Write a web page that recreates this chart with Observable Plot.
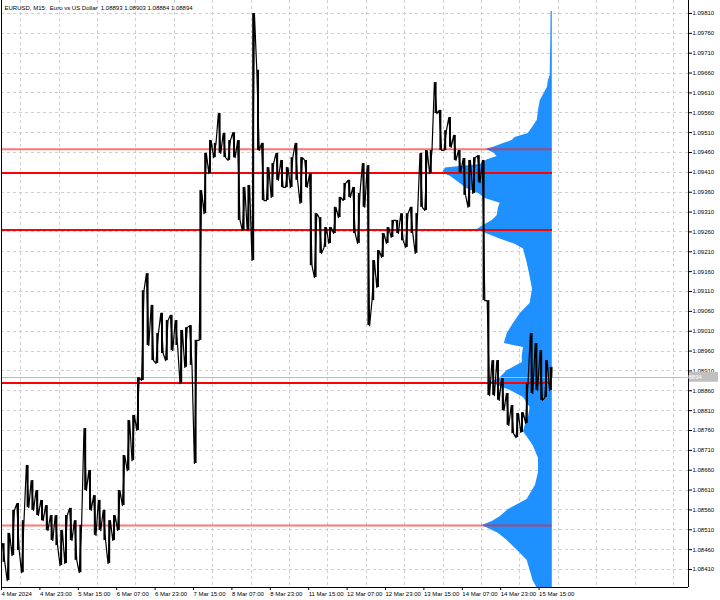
<!DOCTYPE html>
<html><head><meta charset="utf-8">
<script src="https://cdn.jsdelivr.net/npm/d3@7"></script>
<script src="https://cdn.jsdelivr.net/npm/@observablehq/plot@0.6"></script>
<style>
body{margin:0;background:#fff;}
#chart{width:720px;height:600px;}
svg text{white-space:pre;}
</style></head><body>
<div id="chart"></div>
<script>
const titleText = "EURUSD, M15:  Euro vs US Dollar  1.08893 1.08903 1.08884 1.08894";
const barsPerColumn = 8;
const lastBar = 918;
const domainBars = [0, 1145];
const priceDomain = [1.083647, 1.098427];

const xTickBars = [0,64,128,192,256,320,384,448,512,576,640,704,768,832,896];
const xTickLabels = ["4 Mar 2024","4 Mar 23:00","5 Mar 15:00","6 Mar 07:00","6 Mar 23:00","7 Mar 15:00","8 Mar 07:00","8 Mar 23:00","11 Mar 15:00","12 Mar 07:00","12 Mar 23:00","13 Mar 15:00","14 Mar 07:00","14 Mar 23:00","15 Mar 15:00"];
const xGridBars = [32,96,160,224,288,352,416,480,544,608,672,736,800,864,928,992,1056,1120];
const yTicks = [1.09810,1.09760,1.09710,1.09660,1.09610,1.09560,1.09510,1.09460,1.09410,1.09360,1.09310,1.09260,1.09210,1.09160,1.09110,1.09060,1.09010,1.08960,1.08910,1.08860,1.08810,1.08760,1.08710,1.08660,1.08610,1.08560,1.08510,1.08460,1.08410];

// high / low of each group of 8 M15 bars
const colHigh = [
1.08475,1.08501,1.08559,1.08576,1.08533,
1.08672,1.08634,1.08609,1.08584,1.08571,
1.08546,1.08546,1.08508,1.08546,1.08564,
1.08533,1.08521,1.08765,1.08659,1.08596,
1.08584,1.08559,1.08533,1.08546,1.08609,
1.08697,1.08785,1.08798,1.08893,1.09112,
1.09155,1.09075,1.09004,1.09055,1.09037,
1.09050,1.09037,1.09012,1.09019,1.09024,
1.08987,1.09364,1.09458,1.09490,1.09483,
1.09558,1.09508,1.09490,1.09510,1.09490,
1.09372,1.09377,1.09810,1.09667,1.09483,
1.09422,1.09432,1.09458,1.09440,1.09422,
1.09447,1.09483,1.09447,1.09440,1.09407,
1.09306,1.09296,1.09271,1.09271,1.09322,
1.09347,1.09382,1.09390,1.09372,1.09357,
1.09432,1.09427,1.09188,1.09213,1.09256,
1.09271,1.09289,1.09289,1.09306,1.09306,
1.09322,1.09306,1.09458,1.09465,1.09465,
1.09636,1.09566,1.09515,1.09548,1.09503,
1.09465,1.09445,1.09440,1.09447,1.09452,
1.09440,1.09087,1.08936,1.08936,1.08891,
1.08853,1.08823,1.08803,1.08805,1.08878,
1.09004,1.08979,1.08961,1.08936,1.08919];
const colLow = [
1.08428,1.08382,1.08445,1.08458,1.08402,
1.08566,1.08559,1.08546,1.08533,1.08508,
1.08483,1.08470,1.08420,1.08425,1.08483,
1.08433,1.08402,1.08609,1.08559,1.08496,
1.08508,1.08483,1.08425,1.08483,1.08508,
1.08571,1.08659,1.08684,1.08760,1.08886,
1.08974,1.08936,1.08929,1.08954,1.08936,
1.08961,1.08974,1.08878,1.08919,1.08924,
1.08677,1.08987,1.09306,1.09407,1.09447,
1.09458,1.09447,1.09440,1.09447,1.09289,
1.09264,1.09264,1.09188,1.09465,1.09339,
1.09339,1.09347,1.09390,1.09372,1.09372,
1.09372,1.09390,1.09332,1.09372,1.09175,
1.09145,1.09206,1.09221,1.09231,1.09256,
1.09296,1.09339,1.09347,1.09256,1.09231,
1.09322,1.09024,1.09087,1.09120,1.09196,
1.09231,1.09246,1.09256,1.09238,1.09221,
1.09256,1.09206,1.09322,1.09314,1.09407,
1.09558,1.09465,1.09465,1.09473,1.09440,
1.09410,1.09352,1.09322,1.09357,1.09384,
1.09087,1.08848,1.08848,1.08836,1.08810,
1.08773,1.08752,1.08742,1.08755,1.08778,
1.08853,1.08861,1.08836,1.08843,1.08861];
const currentPrice = 1.08894;

const levelsThick = [1.09408, 1.09266, 1.08880];
const levelsThin = [1.09468, 1.08521];

// volume profile: price level and width (in bars)
const profPrice = [1.09815,1.09742,1.09654,1.09641,1.09624,1.09591,1.09566,1.09541,1.09523,1.09508,1.09498,1.09490,1.09483,1.09473,1.09468,1.09458,1.09450,1.09442,1.09430,1.09421,1.09408,1.09400,1.09387,1.09369,1.09357,1.09344,1.09332,1.09319,1.09301,1.09289,1.09276,1.09266,1.09255,1.09242,1.09229,1.09217,1.09183,1.09148,1.09115,1.09080,1.09055,1.09029,1.09004,1.08979,1.08969,1.08949,1.08931,1.08911,1.08893,1.08880,1.08861,1.08843,1.08818,1.08790,1.08773,1.08757,1.08722,1.08690,1.08654,1.08622,1.08586,1.08561,1.08543,1.08531,1.08521,1.08501,1.08483,1.08458,1.08433,1.08408,1.08382,1.08357];
const profVol = [2,2.5,3.5,6.5,8,20,23,25,33,40,62,67,80,98,110,97,92,108,120,178,183,170,158,142,123,112,87,90,92,100,115,125,108,87,62,48,42,37,33,37,53,65,75,80,48,50,50,75,87,103,70,48,37,40,45,48,32,23,23,28,42,73,87,100,117,90,75,58,42,37,32,23];

// build tables
const cols = colHigh.map((h, k) => ({k, h, l: colLow[k], bar: k * barsPerColumn + 3.5}));
const path = [];
cols.forEach((c, k) => {
  const n = cols[k + 1];
  const up = n ? (n.h + n.l) > (c.h + c.l) : true;
  const a = k * barsPerColumn + 1.5, b = k * barsPerColumn + 5.5;
  if (up) { path.push({bar: a, p: c.l}, {bar: b, p: c.h}); }
  else { path.push({bar: a, p: c.h}, {bar: b, p: c.l}); }
});
path.push({bar: lastBar - 1, p: currentPrice});
const profile = profPrice.map((p, i) => ({p, v: profVol[i]}));

const font = "'Liberation Sans', Arial, sans-serif";
const grid = {stroke: "#cfcfcf", strokeDasharray: "3,3", strokeWidth: 1, shapeRendering: "crispEdges"};

const plot = Plot.plot({
  width: 720, height: 600,
  marginTop: 0, marginLeft: 1, marginRight: 32, marginBottom: 13,
  style: {fontFamily: font, fontSize: "6px", background: "#fff", color: "#000"},
  x: {domain: domainBars, label: null},
  y: {domain: priceDomain, label: null},
  marks: [
    Plot.ruleY(yTicks, {...grid}),
    Plot.ruleX(xGridBars, {...grid}),
    Plot.areaX(profile, {y: "p", x1: () => lastBar, x2: d => lastBar - d.v, fill: "#1e90ff", clip: true}),
    Plot.ruleY([currentPrice], {stroke: "#bcbcbc", strokeWidth: 1, shapeRendering: "crispEdges"}),
    Plot.ruleY(levelsThin, {x1: () => 0, x2: () => lastBar, stroke: "#ff1a1a", strokeOpacity: 0.6, strokeWidth: 2}),
    Plot.ruleY(levelsThick, {x1: () => 0, x2: () => lastBar, stroke: "#ff0000", strokeWidth: 2, shapeRendering: "crispEdges"}),
    Plot.ruleX(cols, {x: "bar", y1: "l", y2: "h", stroke: "#000", strokeWidth: 2}),
    Plot.line(path, {x: "bar", y: "p", stroke: "#000", strokeWidth: 1.2}),
    Plot.ruleX([domainBars[0]], {stroke: "#000", shapeRendering: "crispEdges"}),
    Plot.ruleX([domainBars[1]], {stroke: "#000", shapeRendering: "crispEdges"}),
    Plot.ruleY([priceDomain[0]], {stroke: "#000", shapeRendering: "crispEdges"}),
    Plot.axisY({anchor: "right", ticks: yTicks, tickFormat: d => d.toFixed(5), tickSize: 3, tickPadding: 1, fontSize: 6, label: null}),
    Plot.axisX({ticks: xTickBars, tickFormat: (d, i) => xTickLabels[i], tickSize: 3, tickPadding: 1, textAnchor: "start", fontSize: 6, label: null}),
    Plot.text([titleText], {frameAnchor: "top-left", dx: 3, dy: 5, textAnchor: "start", fontSize: 6, fill: "#000"})
  ]
});
document.getElementById("chart").appendChild(plot);

// current price marker on the price axis
const yPos = plot.scale("y").apply(currentPrice);
const xPos = plot.scale("x").apply(domainBars[1]);
const g = d3.select(plot).append("g");
g.append("rect").attr("x", xPos + 1).attr("y", yPos - 5).attr("width", 29).attr("height", 10).attr("fill", "#c0c0c0");
g.append("text").attr("x", xPos + 3).attr("y", yPos + 2).attr("fill", "#fff").attr("font-size", 6).attr("font-family", font).text(currentPrice.toFixed(5));
</script>
</body></html>
